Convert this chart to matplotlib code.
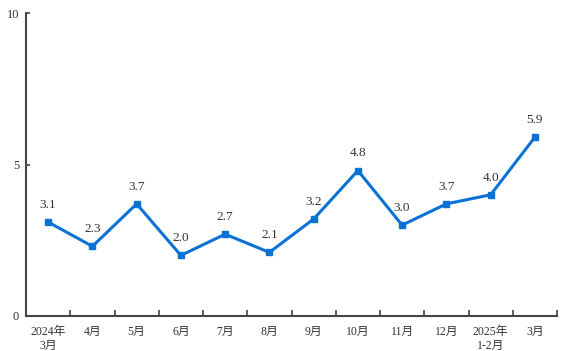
import matplotlib
matplotlib.use('Agg')
import matplotlib.pyplot as plt
from matplotlib.ticker import FixedLocator

plt.rcParams['font.family'] = ['Liberation Serif', 'Noto Sans CJK SC']

#data
months = ['2024年\n3月', '4月', '5月', '6月', '7月', '8月', '9月', '10月', '11月', '12月', '2025年\n1-2月', '3月']
values = [3.1, 2.3, 3.7, 2.0, 2.7, 2.1, 3.2, 4.8, 3.0, 3.7, 4.0, 5.9]

blue = '#0a72d4'
txt = '#333333'

fig = plt.figure(figsize=(5.71, 3.51), dpi=100)
ax = fig.add_axes([26/571, 1-316/351, (557-26)/571, (316-13)/351])

x = list(range(len(values)))
ax.plot(x, values, color=blue, lw=2.2, marker='s', ms=4.5, mec=blue, mfc=blue)
for xi, v in zip(x, values):
    ax.annotate('%.1f' % v, (xi, v), xytext=(0, 8), textcoords='offset points',
                ha='center', va='bottom', fontsize=9.5, color=txt)

ax.set_xlim(-0.5, len(values) - 0.5)
ax.set_ylim(0, 10)
ax.set_yticks([0, 5, 10])
ax.set_yticklabels(['0', '5', '10'], fontsize=9, color=txt)
ax.tick_params(axis='y', direction='in', length=3, width=1.2, color='#444444', pad=5)

ax.set_xticks(x)
ax.set_xticklabels(months, fontsize=8.5, color=txt, linespacing=1.3, va='top')
ax.tick_params(axis='x', which='major', length=0, pad=7)
ax.xaxis.set_minor_locator(FixedLocator([i + 0.5 for i in x]))
ax.tick_params(axis='x', which='minor', direction='in', length=4, width=1.2, color='#444444')

for s in ['top', 'right']:
    ax.spines[s].set_visible(False)
for s in ['left', 'bottom']:
    ax.spines[s].set_color('#444444')
    ax.spines[s].set_linewidth(1.5)

fig.savefig('out.png', dpi=100)
